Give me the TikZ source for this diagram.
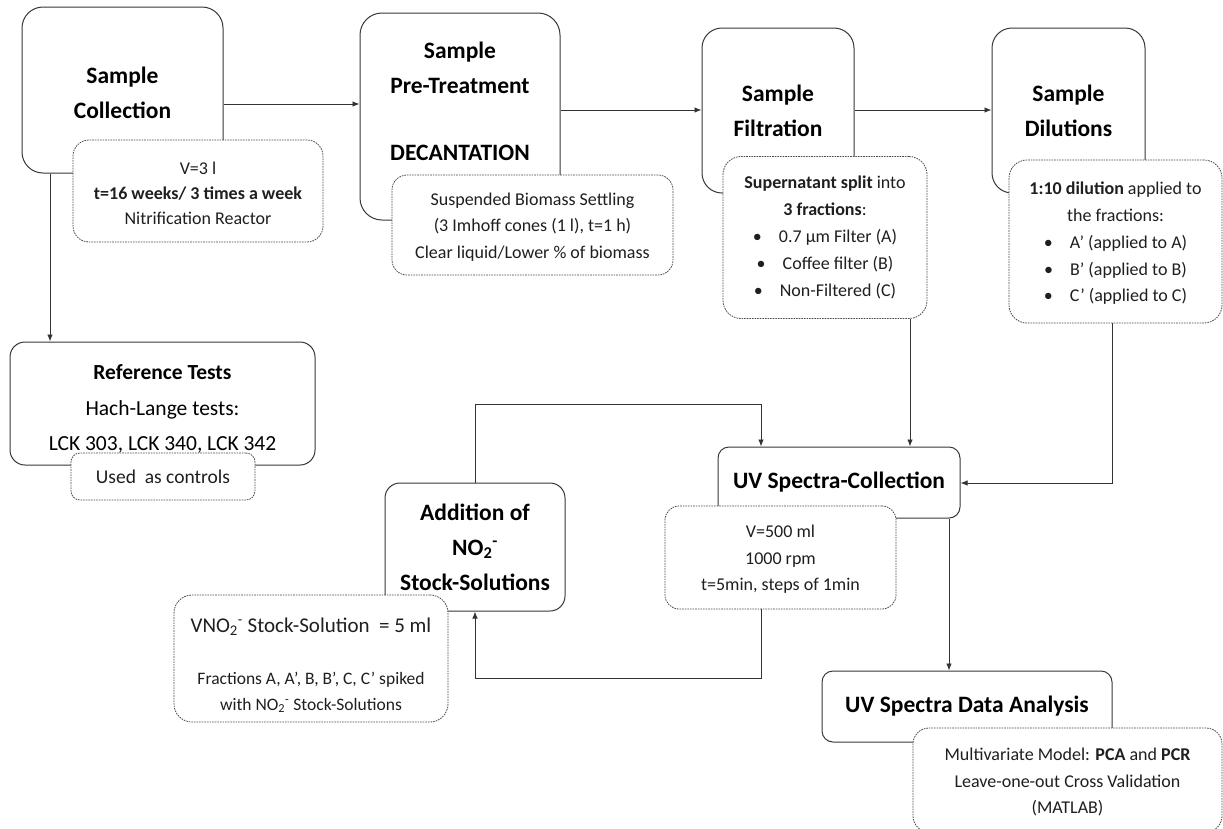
\documentclass[tikz,border=0pt]{standalone}
\usepackage{fontspec}
\setmainfont{Carlito}
\usetikzlibrary{arrows.meta}
\newcommand\bul{\makebox[26pt][l]{\textbullet}}
\begin{document}
\begin{tikzpicture}[x=1pt,y=-1pt,
  box/.style={draw=black!78, line width=1pt, rounded corners=20pt, fill=white, inner sep=0pt, align=center},
  sub/.style={draw=black!70, line width=0.8pt, dash pattern=on 1.6pt off 1pt, rounded corners=16pt, fill=white, inner sep=0pt, align=center, text=black!88},
  ttl/.style={font=\fontsize{23.5}{35}\selectfont\bfseries},
  body/.style={font=\fontsize{18}{26.5}\selectfont},
  lbl/.style={inner sep=0pt, align=center},
  arr/.style={draw=black!80, line width=0.9pt, -{Latex[length=7pt,width=5.5pt]}}]
\useasboundingbox (0,0) rectangle (1223,828);
\fill[white] (0,0) rectangle (1223,828);

% helper coordinates for connector routes
\coordinate (h1) at (0,104);
\coordinate (h2) at (0,110);
\coordinate (v1) at (50,0);
\coordinate (v2) at (910,0);
\coordinate (v3) at (949,0);
\coordinate (k1) at (1112,483);
\coordinate (k2) at (761,404);
\coordinate (k3) at (761,678);

% Sample Collection
\node[box, minimum width=201pt, minimum height=166pt, rounded corners=21pt] (sc) at (122.5,90) {};
\node[lbl, ttl] (sct) at (122.5,93) {Sample\\Collection};
\node[sub, font=\fontsize{18}{25}\selectfont, minimum width=250pt, minimum height=102pt, rounded corners=16pt] (scs) at (198,191) {};
\node[lbl, font=\fontsize{18}{25}\selectfont, text=black!88] (scst) at (198,193.5)
  {V=3 l\\\textbf{t=16 weeks/ 3 times a week}\\Nitrification Reactor};

% Sample Pre-Treatment
\node[box, minimum width=200pt, minimum height=207pt, rounded corners=22pt] (pt) at (460,116.5) {};
\node[lbl, ttl] (ptt) at (460,101) {Sample\\Pre-Treatment\\[32pt]DECANTATION};
\node[sub, minimum width=281pt, minimum height=100pt, rounded corners=15pt] (pts) at (532.5,225) {};
\node[lbl, body, text=black!88] (ptst) at (532.5,227)
  {Suspended Biomass Settling\\(3 Imhoff cones (1 l), t=1 h)\\Clear liquid/Lower \% of biomass};

% Sample Filtration
\node[box, ttl, minimum width=152pt, minimum height=165pt, rounded corners=20pt] (sf) at (778,110.5) {Sample\\Filtration};
\node[sub, font=\fontsize{18}{27.2}\selectfont, minimum width=204pt, minimum height=162pt, rounded corners=18pt] (sfs) at (825,237.5)
  {\textbf{Supernatant split} into\\\textbf{3 fractions}:\\\bul 0.7 µm Filter (A)\\\bul Coffee filter (B)\\\bul Non-Filtered (C)};

% Sample Dilutions
\node[box, ttl, minimum width=153pt, minimum height=165pt, rounded corners=20pt] (sd) at (1068.5,110.5) {Sample\\Dilutions};
\node[sub, minimum width=213pt, minimum height=163pt, rounded corners=18pt] (sds) at (1115.5,241.5) {};
\node[lbl, font=\fontsize{18}{26.8}\selectfont, text=black!88] (sdst) at (1115.5,243.5)
  {\textbf{1:10 dilution} applied to\\the fractions:\\\bul A’ (applied to A)\\\bul B’ (applied to B)\\\bul C’ (applied to C)};

% Reference Tests
\node[box, minimum width=305pt, minimum height=123pt, rounded corners=15pt] (rt) at (162.5,403.5) {};
\node[lbl, font=\fontsize{21.5}{35.5}\selectfont] (rtt) at (162.5,409)
  {\textbf{Reference Tests}\\Hach-Lange tests:\\LCK 303, LCK 340, LCK 342};
\node[sub, font=\fontsize{19.5}{24}\selectfont, minimum width=184pt, minimum height=47pt, rounded corners=9pt] (rts) at (163,476.5)
  {Used\ \ as controls};

% UV Spectra-Collection
\node[box, ttl, minimum width=242pt, minimum height=71pt, rounded corners=11pt] (uc) at (839,482.5) {UV Spectra-Collection};
\node[sub, minimum width=231pt, minimum height=103pt, rounded corners=14pt] (ucs) at (780.5,557.5) {};
\node[lbl, body, text=black!88] (ucst) at (780.5,559.5)
  {V=500 ml\\1000 rpm\\t=5min, steps of 1min};

% Addition of NO2- Stock-Solutions
\node[box, ttl, minimum width=180pt, minimum height=128pt, rounded corners=15pt] (ad) at (475,547)
  {Addition of\\NO\textsubscript{2}\textsuperscript{-}\\Stock-Solutions};
\node[sub, minimum width=274pt, minimum height=127pt, rounded corners=18pt] (ads) at (311,658.5) {};
\node[lbl, font=\fontsize{17.5}{25.5}\selectfont, text=black!88] (adst) at (311,665)
  {{\fontsize{21}{25}\selectfont VNO\textsubscript{2}\textsuperscript{-} Stock-Solution\ \ = 5 ml}\\[27pt]
   Fractions A, A’, B, B’, C, C’ spiked\\
   with NO\textsubscript{2}\textsuperscript{-} Stock-Solutions};

% UV Spectra Data Analysis
\node[box, ttl, minimum width=290pt, minimum height=71pt, rounded corners=11pt] (ua) at (967,706.5) {UV Spectra Data Analysis};
\node[sub, minimum width=309pt, minimum height=104pt, rounded corners=16pt] (uas) at (1067.5,780) {};
\node[lbl, font=\fontsize{18}{26.5}\selectfont, text=black!88] (uast) at (1067.5,782)
  {Multivariate Model: \textbf{PCA} and \textbf{PCR}\\Leave-one-out Cross Validation\\(MATLAB)};

% connectors
\draw[arr] (sc.east |- h1) -- (pt.west |- h1);
\draw[arr] (pt.east |- h2) -- (sf.west |- h2);
\draw[arr] (sf.east |- h2) -- (sd.west |- h2);
\draw[arr] (sc.south -| v1) -- (rt.north -| v1);
\draw[arr] (sfs.south -| v2) -- (uc.north -| v2);
\draw[arr] (sds.south -| k1) -- (k1) -- (uc.east |- k1);
\draw[arr] (ad.north) |- (k2) -- (uc.north -| k2);
\draw[arr] (ucs.south -| k3) -- (k3) -| (ad.south);
\draw[arr] (uc.south -| v3) -- (ua.north -| v3);
\end{tikzpicture}
\end{document}
